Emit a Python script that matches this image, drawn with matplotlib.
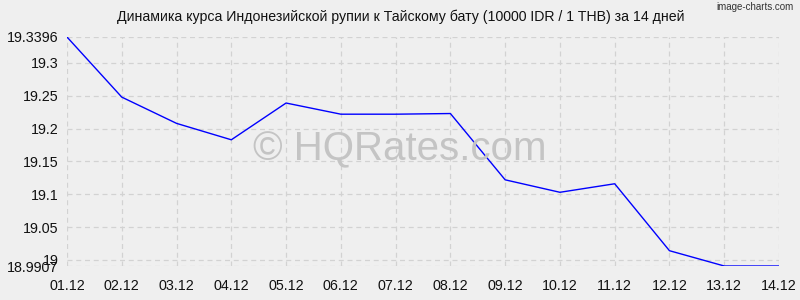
import matplotlib
matplotlib.use("Agg")
import matplotlib.pyplot as plt

dates = ["01.12", "02.12", "03.12", "04.12", "05.12", "06.12", "07.12",
         "08.12", "09.12", "10.12", "11.12", "12.12", "13.12", "14.12"]
rates = [19.3396, 19.248, 19.208, 19.183, 19.239, 19.222, 19.222,
         19.223, 19.122, 19.103, 19.116, 19.014, 18.9907, 18.9907]
ytick_vals = [18.9907, 19.0, 19.05, 19.1, 19.15, 19.2, 19.25, 19.3, 19.3396]
ytick_labels = ["18.9907", "19", "19.05", "19.1", "19.15", "19.2", "19.25", "19.3", "19.3396"]
title = "Динамика курса Индонезийской рупии к Тайскому бату (10000 IDR / 1 THB) за 14 дней"

plt.rcParams['font.family'] = ['Liberation Sans', 'DejaVu Sans']
bg = "#efefef"
fig = plt.figure(figsize=(8, 3), dpi=100, facecolor=bg)
ax = fig.add_axes([67/800, 1-266/300, (779-67)/800, (266-37)/300])
ax.set_facecolor(bg)

fig.text(400/800, 1-149/300, "© HQRates.com", ha="center", va="center", fontsize=29,
         color="#c4c4c4", zorder=0)

x = list(range(len(dates)))
ax.plot(x, rates, color="#0000ff", lw=1, zorder=3)
ax.set_xlim(0, len(dates)-1)
ax.set_ylim(min(ytick_vals), max(ytick_vals))
ax.set_xticks(x)
ax.set_xticklabels(dates, fontsize=10.3)
ax.set_yticks(ytick_vals)
ax.set_yticklabels(ytick_labels, fontsize=10.3)
ax.tick_params(axis="x", length=0, pad=9, colors="#111111")
ax.tick_params(axis="y", length=0, pad=6, colors="#111111")
ax.grid(True, color="#d2d2d2", ls=(0, (4, 3)), lw=0.9)
ax.patch.set_alpha(0)
for s in ax.spines.values():
    s.set_visible(False)

fig.text(401/800, 1-17/300, title, ha="center", va="center", fontsize=10.2, color="#111111")
fig.text(794/800, 1-7/300, "image-charts.com", ha="right", va="center", fontsize=7, color="#333333")

fig.savefig("out.png", dpi=100, facecolor=bg)
